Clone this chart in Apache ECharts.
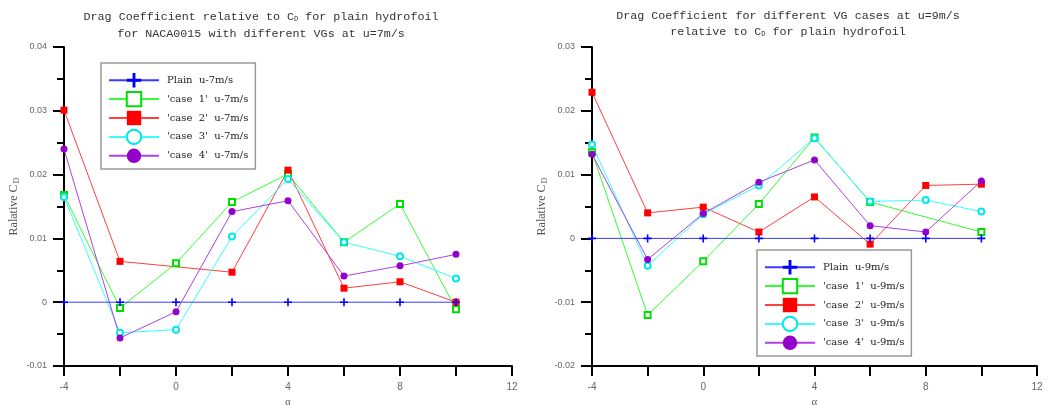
<!DOCTYPE html>
<html>
<head>
<meta charset="utf-8">
<script src="https://cdn.jsdelivr.net/npm/echarts@6/dist/echarts.min.js"></script>
<style>html,body{margin:0;padding:0;background:#fff;}#chart{width:1055px;height:405px;}</style>
</head>
<body>
<div id="chart"></div>
<script>
// ---- data ----
const alpha = [-4, -2, 0, 2, 4, 6, 8, 10];
const xTicks = [-4, 0, 4, 8, 12];
const yTicks7 = [-0.01, 0, 0.01, 0.02, 0.03, 0.04];
const yTicks9 = [-0.02, -0.01, 0, 0.01, 0.02, 0.03];

const names7 = ["Plain  u-7m/s", "'case  1'  u-7m/s", "'case  2'  u-7m/s", "'case  3'  u-7m/s", "'case  4'  u-7m/s"];
const names9 = ["Plain  u-9m/s", "'case  1'  u-9m/s", "'case  2'  u-9m/s", "'case  3'  u-9m/s", "'case  4'  u-9m/s"];

const plain7 = [0, 0, 0, 0, 0, 0, 0, 0];
const case1_7 = [0.0168, -0.0009, 0.0061, 0.0157, 0.0201, 0.0094, 0.0154, -0.0011];
const case2_7 = [0.0301, 0.0064, null, 0.0047, 0.0207, 0.0022, 0.0032, 0.0000];
const case3_7 = [0.0165, -0.0048, -0.0043, 0.0103, 0.0193, 0.0094, 0.0072, 0.0037];
const case4_7 = [0.0240, -0.0056, -0.0015, 0.0142, 0.0159, 0.0041, 0.0057, 0.0075];

const plain9 = [0, 0, 0, 0, 0, 0, 0, 0];
const case1_9 = [0.0135, -0.0120, -0.0036, 0.0054, 0.0158, 0.0057, null, 0.0010];
const case2_9 = [0.0229, 0.0040, 0.0049, 0.0010, 0.0065, -0.0009, 0.0083, 0.0085];
const case3_9 = [0.0147, -0.0043, 0.0038, 0.0083, 0.0157, 0.0058, 0.0060, 0.0042];
const case4_9 = [0.0132, -0.0033, 0.0039, 0.0088, 0.0123, 0.0020, 0.0010, 0.0090];

// ---- styles ----
const crossPath = 'path://M4,0h2v4h4v2h-4v4h-2v-4h-4v-2h4z';
const styles = [
  {color: '#0000ff', line: '#3a3aff', symbol: crossPath, size: 8},
  {color: '#00e000', line: '#33ff33', symbol: 'emptyRect', size: 6},
  {color: '#ff0000', line: '#ff4040', symbol: 'rect', size: 7},
  {color: '#00e8e8', line: '#33ffff', symbol: 'emptyCircle', size: 6},
  {color: '#9400cc', line: '#b040e0', symbol: 'circle', size: 7}
];

function pairs(vals) { return alpha.map((a, i) => [a, vals[i]]); }

function mkSeries(names, datas, gi) {
  const out = [];
  datas.forEach((d, i) => {
    const s = styles[i];
    out.push({
      name: names[i], type: 'line', xAxisIndex: gi, yAxisIndex: gi,
      data: pairs(d), connectNulls: true,
      symbol: s.symbol, symbolSize: s.size, showAllSymbol: true,
      z: i === 0 ? 5 : 2,
      lineStyle: {color: s.line, width: 1},
      itemStyle: {color: s.color, borderWidth: 1.3},
      emphasis: {disabled: true},
      animation: false
    });
  });
  return out;
}

const fmtY = v => { const r = Math.round(v * 1000) / 1000; if (Math.abs(r) < 1e-9) return '0'; return (Math.round(r * 100) === r * 100) ? r.toFixed(2) : ''; };

function xAxis(gi) {
  return {
    type: 'value', gridIndex: gi, min: -4, max: 12, interval: 2,
    name: 'α', nameLocation: 'middle', nameGap: 28,
    nameTextStyle: {color: '#666', fontFamily: 'Liberation Serif', fontSize: 11},
    axisLine: {show: true, onZero: false, lineStyle: {color: '#000', width: 2}},
    axisTick: {show: true, length: 10, lineStyle: {color: '#000', width: 2}},
    axisLabel: {color: '#666', fontFamily: 'Liberation Sans', fontSize: 10, margin: 16,
      formatter: v => (xTicks.indexOf(Math.round(v)) >= 0 ? String(Math.round(v)) : '')},
    splitLine: {show: false}
  };
}
function yAxis(gi, ticks) {
  return {
    type: 'value', gridIndex: gi, min: ticks[0], max: ticks[ticks.length - 1], interval: 0.01,
    name: 'Ralative C{sub|D}', nameLocation: 'middle', nameGap: 43,
    nameTextStyle: {color: '#555', fontFamily: 'Liberation Serif', fontSize: 12, padding: [0, 0, 0, 0],
      rich: {sub: {fontFamily: 'Liberation Serif', fontSize: 8, color: '#555', padding: [6, 0, 0, 1]}}},
    axisLine: {show: true, onZero: false, lineStyle: {color: '#000', width: 2}},
    axisTick: {show: true, length: 11, lineStyle: {color: '#000', width: 2}},
    minorTick: {show: true, splitNumber: 2, length: 7, lineStyle: {color: '#000', width: 2}},
    axisLabel: {color: '#666', fontFamily: 'Liberation Sans', fontSize: 9, margin: 17, formatter: fmtY},
    splitLine: {show: false}
  };
}
function legend(names, left, top) {
  return {
    data: names, orient: 'vertical', left: left, top: top,
    itemWidth: 50, itemHeight: 18, itemGap: 3.5,
    padding: [10, 7, 6, 7],
    backgroundColor: '#fff', borderColor: '#999', borderWidth: 1.5,
    textStyle: {fontFamily: 'DejaVu Serif', fontSize: 10, color: '#222', padding: [0, 0, 0, 3]},
    selectedMode: false
  };
}

const titleFont = {fontFamily: 'Liberation Mono', fontSize: 11.7, fill: '#333'};
const richSub = {sub: {fontFamily: 'Liberation Mono', fontSize: 7, fill: '#333', padding: [5, 0, 0, 0]}};

const chart = echarts.init(document.getElementById('chart'), null, {renderer: 'canvas'});
chart.setOption({
  animation: false,
  backgroundColor: '#fff',
  graphic: [
    {type: 'text', x: 261, y: 8, style: Object.assign({text: 'Drag Coefficient relative to C{sub|D} for plain hydrofoil\nfor NACA0015 with different VGs at u=7m/s', align: 'center', lineHeight: 17, rich: richSub}, titleFont)},
    {type: 'text', x: 788, y: 8, style: Object.assign({text: 'Drag Coefficient for different VG cases at u=9m/s\nrelative to C{sub|D} for plain hydrofoil', align: 'center', lineHeight: 16, rich: richSub}, titleFont)}
  ],
  grid: [
    {left: 64, top: 47, width: 448, height: 319, outerBoundsMode: 'none'},
    {left: 592, top: 47, width: 445, height: 319, outerBoundsMode: 'none'}
  ],
  xAxis: [xAxis(0), xAxis(1)],
  yAxis: [yAxis(0, yTicks7), yAxis(1, yTicks9)],
  legend: [legend(names7, 101, 63), legend(names9, 757, 250)],
  series: [].concat(
    mkSeries(names7, [plain7, case1_7, case2_7, case3_7, case4_7], 0),
    mkSeries(names9, [plain9, case1_9, case2_9, case3_9, case4_9], 1)
  )
});
</script>
</body>
</html>
